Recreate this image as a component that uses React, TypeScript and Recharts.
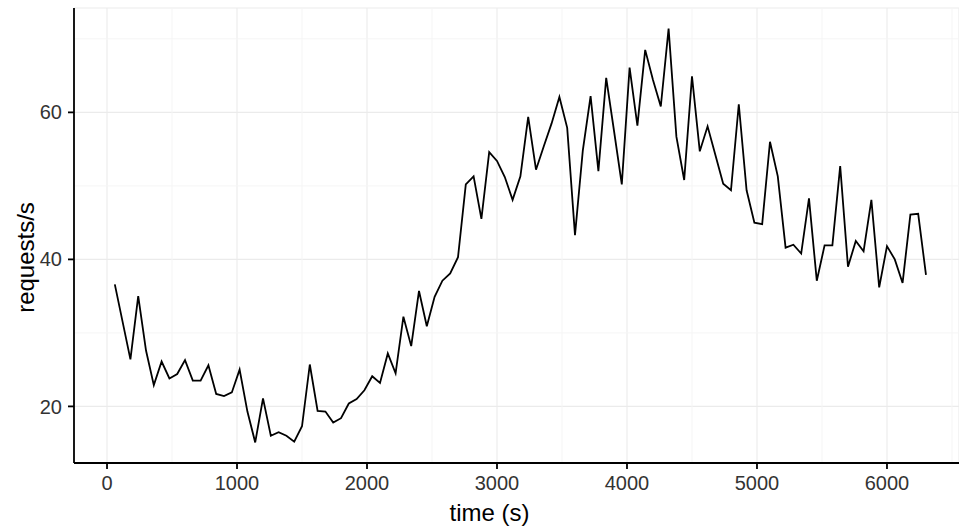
import React from 'react';
import { LineChart, Line, XAxis, YAxis, CartesianGrid, ReferenceLine, Label } from 'recharts';

const times = [
  60, 120, 180, 240, 300, 360, 420, 480, 540, 600,
  660, 720, 780, 840, 900, 960, 1020, 1080, 1140, 1200,
  1260, 1320, 1380, 1440, 1500, 1560, 1620, 1680, 1740, 1800,
  1860, 1920, 1980, 2040, 2100, 2160, 2220, 2280, 2340, 2400,
  2460, 2520, 2580, 2640, 2700, 2760, 2820, 2880, 2940, 3000,
  3060, 3120, 3180, 3240, 3300, 3360, 3420, 3480, 3540, 3600,
  3660, 3720, 3780, 3840, 3900, 3960, 4020, 4080, 4140, 4200,
  4260, 4320, 4380, 4440, 4500, 4560, 4620, 4680, 4740, 4800,
  4860, 4920, 4980, 5040, 5100, 5160, 5220, 5280, 5340, 5400,
  5460, 5520, 5580, 5640, 5700, 5760, 5820, 5880, 5940, 6000,
  6060, 6120, 6180, 6240, 6300,
];

const rates = [
  36.6, 31.5, 26.4, 35.0, 27.6, 22.9, 26.1, 23.8, 24.4, 26.3,
  23.5, 23.5, 25.6, 21.7, 21.4, 21.9, 25.0, 19.3, 15.1, 21.1,
  16.0, 16.5, 16.0, 15.2, 17.3, 25.7, 19.4, 19.3, 17.8, 18.4,
  20.4, 21.0, 22.2, 24.1, 23.2, 27.2, 24.5, 32.2, 28.2, 35.7,
  30.9, 34.9, 37.1, 38.1, 40.3, 50.2, 51.3, 45.5, 54.6, 53.4,
  51.2, 48.1, 51.3, 59.4, 52.2, 55.4, 58.5, 62.1, 57.9, 43.3,
  54.8, 62.2, 52.0, 64.7, 57.5, 50.2, 66.1, 58.2, 68.5, 64.4,
  60.8, 71.4, 56.7, 50.8, 64.9, 54.7, 58.1, 54.2, 50.3, 49.4,
  61.1, 49.4, 45.0, 44.8, 56.0, 51.3, 41.6, 42.0, 40.8, 48.3,
  37.1, 41.9, 41.9, 52.7, 39.0, 42.5, 41.1, 48.1, 36.2, 41.8,
  40.0, 36.8, 46.1, 46.2, 37.9,
];

const xTicks = [0, 1000, 2000, 3000, 4000, 5000, 6000];
const yTicks = [20, 40, 60];
const xMinor = [500, 1500, 2500, 3500, 4500, 5500, 6500];
const yMinor = [30, 50, 70];

const data = times.map((t, i) => ({ time: t, rate: rates[i] }));

const YTitle = (props: any) => {
  const vb = props.viewBox || { x: 0, y: 0, width: 0, height: 0 };
  const cx = vb.x + 25;
  const cy = vb.y + vb.height / 2 + 22;
  return (
    <text
      x={cx}
      y={cy}
      transform={`rotate(-90 ${cx} ${cy})`}
      textAnchor="middle"
      dominantBaseline="central"
      fontSize={24}
      fill="#000"
    >
      requests/s
    </text>
  );
};

const XTitle = (props: any) => {
  const vb = props.viewBox || { x: 0, y: 0, width: 0, height: 0 };
  const cx = vb.x + vb.width / 2 - 27;
  const by = vb.y + vb.height - 8;
  return (
    <text x={cx} y={by} textAnchor="middle" fontSize={24} fill="#000">
      time (s)
    </text>
  );
};

export default function App() {
  return (
    <div
      style={{
        position: 'absolute',
        left: 0,
        top: 0,
        width: 959,
        height: 529,
        background: '#fff',
        fontFamily: '"Liberation Sans", Arial, Helvetica, sans-serif',
      }}
    >
      <LineChart width={959} height={529} data={data} margin={{ top: 8, right: 0, bottom: 0, left: 0 }}>
        <CartesianGrid stroke="#EBEBEB" strokeWidth={1.1} />
        {xMinor.map((v) => (
          <ReferenceLine key={'xm' + v} x={v} stroke="#F5F5F5" strokeWidth={1} />
        ))}
        {yMinor.map((v) => (
          <ReferenceLine key={'ym' + v} y={v} stroke="#F5F5F5" strokeWidth={1} />
        ))}
        <XAxis
          dataKey="time"
          type="number"
          domain={[-254, 6554]}
          allowDataOverflow
          ticks={xTicks}
          interval={0}
          height={66}
          tickSize={6}
          tickMargin={7}
          axisLine={{ stroke: '#000', strokeWidth: 1.8 }}
          tickLine={{ stroke: '#000', strokeWidth: 1.8 }}
          tick={{ fill: '#333', fontSize: 20 }}
        >
          <Label content={<XTitle />} />
        </XAxis>
        <YAxis
          type="number"
          domain={[12.3, 74.2]}
          allowDataOverflow
          ticks={yTicks}
          interval={0}
          width={74}
          tickSize={6}
          tickMargin={6}
          axisLine={{ stroke: '#000', strokeWidth: 1.8 }}
          tickLine={{ stroke: '#000', strokeWidth: 1.8 }}
          tick={{ fill: '#333', fontSize: 20 }}
        >
          <Label content={<YTitle />} />
        </YAxis>
        <Line
          type="linear"
          dataKey="rate"
          stroke="#000"
          strokeWidth={1.8}
          dot={false}
          activeDot={false}
          isAnimationActive={false}
        />
      </LineChart>
    </div>
  );
}
